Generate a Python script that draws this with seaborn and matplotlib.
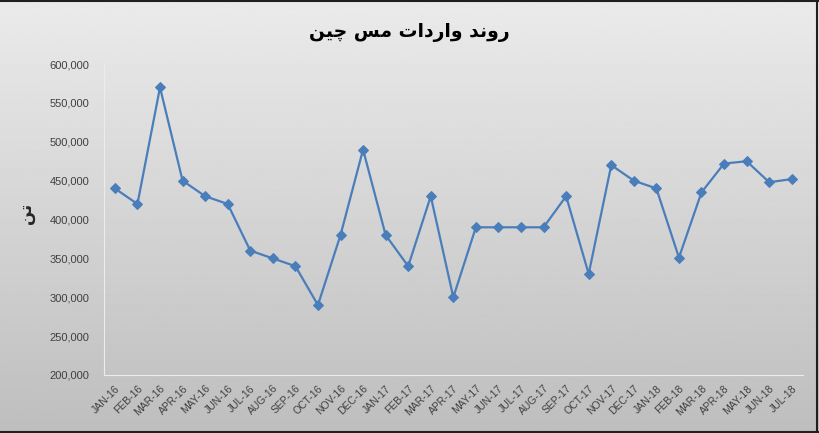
import numpy as np
import pandas as pd
import seaborn as sb
import matplotlib.pyplot as plt
from matplotlib.lines import Line2D

months = ["JAN-16", "FEB-16", "MAR-16", "APR-16", "MAY-16", "JUN-16", "JUL-16", "AUG-16",
          "SEP-16", "OCT-16", "NOV-16", "DEC-16", "JAN-17", "FEB-17", "MAR-17", "APR-17",
          "MAY-17", "JUN-17", "JUL-17", "AUG-17", "SEP-17", "OCT-17", "NOV-17", "DEC-17",
          "JAN-18", "FEB-18", "MAR-18", "APR-18", "MAY-18", "JUN-18", "JUL-18"]
imports = [440000, 420000, 570000, 450000, 430000, 420000, 360000, 350000,
           340000, 290000, 380000, 490000, 380000, 340000, 430000, 300000,
           390000, 390000, 390000, 390000, 430000, 330000, 470000, 450000,
           440000, 351000, 435000, 472000, 475000, 448000, 452000]
y_ticks = [200000, 250000, 300000, 350000, 400000, 450000, 500000, 550000, 600000]

# Persian text, shaped by hand (matplotlib has no Arabic shaping), visual order
title = "\uFEE6\uFEF4\uFB7C \uFEB2\uFEE3 \uFE95\uFE8D\uFEA9\uFEAD\uFE8D\uFEED \uFEAA\uFEE7\uFEED\uFEAD"
unit = "\uFEE6\uFE97"

df = pd.DataFrame({"month": months, "imports": imports})
df["pos"] = range(len(months))

sb.set_style("white")
plt.rcParams['font.family'] = ['Liberation Sans', 'DejaVu Sans']

fig = plt.figure(figsize=(8.19, 4.33), dpi=100)

# gradient background
bg = fig.add_axes([0, 0, 1, 1], zorder=0)
grad = np.linspace(0.92, 0.745, 256).reshape(-1, 1)
bg.imshow(grad, aspect="auto", cmap="gray", vmin=0, vmax=1, extent=[0, 1, 0, 1])
bg.set_axis_off()

ax = fig.add_axes([0.1265, 0.134, 0.854, 0.718], zorder=1)
ax.set_facecolor("none")
sb.lineplot(data=df, x="pos", y="imports", ax=ax, color="#4a7ebb", linewidth=1.6,
            marker="D", markersize=5, markeredgecolor="#4a7ebb")

ax.set_xlim(-0.5, len(months) - 0.5)
ax.set_ylim(200000, 600000)
ax.set_yticks(y_ticks)
ax.set_yticklabels([f"{v:,}" for v in y_ticks], fontsize=8, color="#404040")
ax.set_xticks(df["pos"])
ax.set_xticklabels(months, rotation=45, ha="right", rotation_mode="anchor",
                   fontsize=7.5, color="#404040")
ax.set_xticks(np.arange(-0.5, len(months), 1), minor=True)
ax.tick_params(axis="x", which="major", length=0, pad=6)
ax.tick_params(axis="x", which="minor", length=4, color="#e8e8e8", width=0.8)
ax.tick_params(axis="y", length=0, pad=10)
ax.set_xlabel("")
ax.set_ylabel(unit, family=["DejaVu Sans"], fontsize=12, fontweight="bold",
              rotation=90, labelpad=10)
ax.yaxis.set_label_coords(-0.098, 0.52)
for s in ["top", "right"]:
    ax.spines[s].set_visible(False)
for s in ["left", "bottom"]:
    ax.spines[s].set_color("#ececec")
    ax.spines[s].set_linewidth(0.8)

fig.text(0.5, 0.925, title, family=["DejaVu Sans"], fontsize=13.5, fontweight="bold",
         ha="center", va="center", color="black")

# outer border
for xs, ys in [([0, 1], [0.998, 0.998]), ([0.997, 0.997], [0, 1]), ([0, 1], [0.003, 0.003])]:
    fig.add_artist(Line2D(xs, ys, color="#202020", linewidth=1.5, transform=fig.transFigure))

fig.savefig("out.png", dpi=100)
